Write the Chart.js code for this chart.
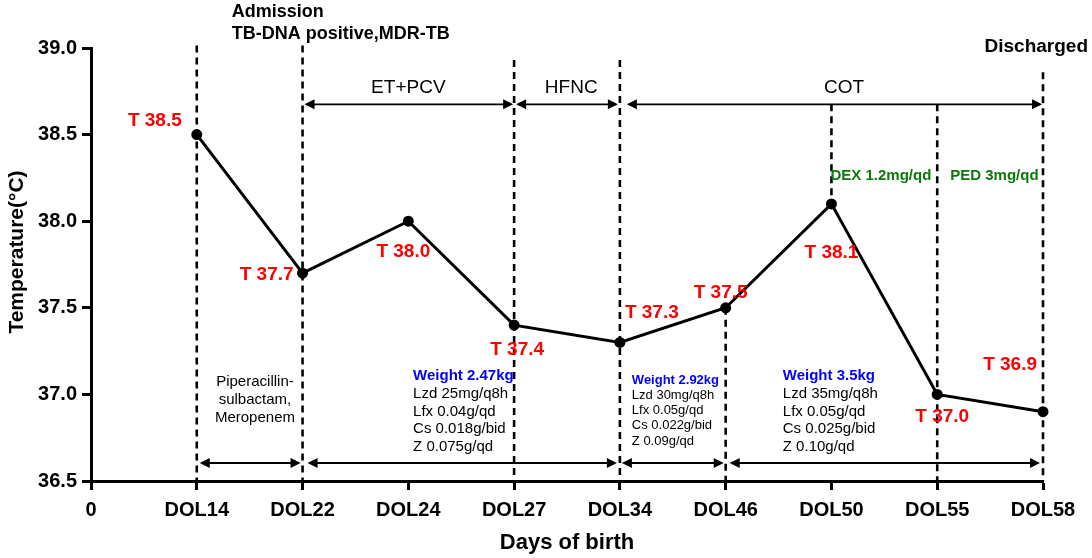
<!DOCTYPE html>
<html>
<head>
<meta charset="utf-8">
<script src="https://cdn.jsdelivr.net/npm/chart.js@4/dist/chart.umd.min.js"></script>
<style>
    body { margin: 0; background: #fff; }
    #wrap { width: 1092px; height: 558px; }
</style>
</head>
<body>
<div id="wrap"><canvas id="tempChart" width="1092" height="558"></canvas></div>
<script>
// Days of life and measured temperature
const days = ['DOL14', 'DOL22', 'DOL24', 'DOL27', 'DOL34', 'DOL46', 'DOL50', 'DOL55', 'DOL58'];
const temps = [38.5, 37.7, 38.0, 37.4, 37.3, 37.5, 38.1, 37.0, 36.9];
const xTickLabels = ['0'].concat(days);
const yTicks = [36.5, 37.0, 37.5, 38.0, 38.5, 39.0];

// respiratory support phases (start/end index into xTickLabels)
const phaseNames = ['ET+PCV', 'HFNC', 'COT'];
const phaseSpans = [[2, 4], [4, 5], [5, 9]];

// drug periods (bottom arrows)
const drugSpans = [[1, 2], [2, 5], [5, 6], [6, 9]];
const antibiotics = ['Piperacillin-', 'sulbactam,', 'Meropenem'];
const weights = ['Weight 2.47kg', 'Weight 2.92kg', 'Weight 3.5kg'];
const regimens = [
    ['Lzd 25mg/q8h', 'Lfx 0.04g/qd', 'Cs 0.018g/bid', 'Z 0.075g/qd'],
    ['Lzd 30mg/q8h', 'Lfx 0.05g/qd', 'Cs 0.022g/bid', 'Z 0.09g/qd'],
    ['Lzd 35mg/q8h', 'Lfx 0.05g/qd', 'Cs 0.025g/bid', 'Z 0.10g/qd']
];
const steroids = ['DEX 1.2mg/qd', 'PED 3mg/qd'];
const events = ['Admission', 'TB-DNA positive,MDR-TB', 'Discharged'];

const FONT = 'Liberation Sans, Arial, Helvetica, sans-serif';

function txt(ctx, s, x, y, font, color, align) {
    ctx.font = font;
    ctx.fillStyle = color;
    ctx.textAlign = align || 'center';
    ctx.textBaseline = 'middle';
    ctx.fillText(s, x, y);
}

function arrow(ctx, x1, x2, y) {
    const hl = 10, hw = 5;
    ctx.beginPath();
    ctx.moveTo(x1 + 2, y);
    ctx.lineTo(x2 - 2, y);
    ctx.stroke();
    ctx.beginPath();
    ctx.moveTo(x1, y); ctx.lineTo(x1 + hl, y - hw); ctx.lineTo(x1 + hl, y + hw); ctx.closePath();
    ctx.fill();
    ctx.beginPath();
    ctx.moveTo(x2, y); ctx.lineTo(x2 - hl, y - hw); ctx.lineTo(x2 - hl, y + hw); ctx.closePath();
    ctx.fill();
}

const timelinePlugin = {
    id: 'timeline',
    beforeDatasetsDraw(chart) {
        const ctx = chart.ctx;
        const xs = chart.scales.x, ys = chart.scales.y;
        const X = v => xs.getPixelForValue(v);
        const Y = v => ys.getPixelForValue(v);
        ctx.save();
        // dashed day markers
        const dashes = [
            [1, 39.015, 36.5], [2, 39.015, 36.5], [4, 38.93, 36.5], [5, 38.93, 36.5],
            [6, temps[5], 36.5], [7, 38.675, temps[6]], [8, 38.675, 36.5], [9, 38.86, 36.5]
        ];
        ctx.strokeStyle = '#000';
        ctx.lineWidth = 2.6;
        ctx.setLineDash([7, 5]);
        dashes.forEach(d => {
            ctx.beginPath();
            ctx.moveTo(X(d[0]), Y(d[1]));
            ctx.lineTo(X(d[0]), Y(d[2]));
            ctx.stroke();
        });
        ctx.setLineDash([]);

        // arrows
        ctx.lineWidth = 1.8;
        ctx.fillStyle = '#000';
        const insetTop = [[2, -1], [2, -2], [7, -1]];
        phaseSpans.forEach((s, i) => arrow(ctx, X(s[0]) + insetTop[i][0], X(s[1]) + insetTop[i][1], Y(38.675)));
        const insetBot = [[3, -2], [5, -3], [2, -2], [4, -3]];
        drugSpans.forEach((s, i) => arrow(ctx, X(s[0]) + insetBot[i][0], X(s[1]) + insetBot[i][1], Y(36.604)));

        // y axis title, drawn by hand to sit a bit above centre like the original
        ctx.translate(17, 252);
        ctx.rotate(-Math.PI / 2);
        txt(ctx, 'Temperature(°C)', 0, 0, 'bold 21px ' + FONT, '#000');
        ctx.restore();
    },
    afterDatasetsDraw(chart) {
        const ctx = chart.ctx;
        const xs = chart.scales.x, ys = chart.scales.y;
        const X = v => xs.getPixelForValue(v);
        const Y = v => ys.getPixelForValue(v);
        ctx.save();

        // phase names above top arrows
        const phaseX = [3.0, 4.54, 7.12];
        phaseNames.forEach((n, i) => txt(ctx, n, X(phaseX[i]), Y(38.675) - 17, '19px ' + FONT, '#000'));

        // temperature labels
        const off = [
            [-15, -14, 'right'], [-9, 2, 'right'], [-5, 31, 'center'], [3, 25, 'center'],
            [5, -30, 'left'], [-5, -15, 'center'], [0, 49, 'center'], [5, 22, 'center'], [-6, -47, 'right']
        ];
        temps.forEach((t, i) => {
            const o = off[i];
            txt(ctx, 'T ' + t.toFixed(1), X(i + 1) + o[0], Y(t) + o[1], 'bold 19px ' + FONT, '#ff0000', o[2]);
        });

        // events
        txt(ctx, events[0], X(1) + 35, 12, 'bold 18px ' + FONT, '#000', 'left');
        txt(ctx, events[1], X(1) + 35, 34, 'bold 18px ' + FONT, '#000', 'left');
        txt(ctx, events[2], 1088, 47, 'bold 19px ' + FONT, '#000', 'right');

        // steroids
        txt(ctx, steroids[0], X(7) - 1, 176, 'bold 15px ' + FONT, '#0b7a0b', 'left');
        txt(ctx, steroids[1], X(8) + 13, 176, 'bold 15px ' + FONT, '#0b7a0b', 'left');

        // antibiotics
        antibiotics.forEach((s, i) => txt(ctx, s, X(1.55), 382 + i * 17.8, '15px ' + FONT, '#000'));

        // anti-TB regimens
        const blocks = [
            { x: 3.045, y: 376, step: 17.7, size: 15 },
            { x: 5.113, y: 380, step: 15.3, size: 13 },
            { x: 6.54, y: 376, step: 17.7, size: 15 }
        ];
        blocks.forEach((b, i) => {
            txt(ctx, weights[i], X(b.x), b.y, 'bold ' + b.size + 'px ' + FONT, '#0000ff', 'left');
            regimens[i].forEach((r, j) => txt(ctx, r, X(b.x), b.y + (j + 1) * b.step, b.size + 'px ' + FONT, '#000', 'left'));
        });
        ctx.restore();
    }
};

new Chart(document.getElementById('tempChart').getContext('2d'), {
    type: 'line',
    data: {
        datasets: [{
            data: temps.map((t, i) => ({ x: i + 1, y: t })),
            borderColor: '#000',
            borderWidth: 3,
            pointRadius: 4,
            pointBackgroundColor: '#000',
            pointBorderColor: '#000',
            tension: 0,
            clip: false
        }]
    },
    options: {
        responsive: false,
        animation: false,
        devicePixelRatio: 1,
        layout: { padding: { top: 48, right: 49, left: 0, bottom: 0 } },
        plugins: {
            legend: { display: false },
            tooltip: { enabled: false }
        },
        scales: {
            x: {
                type: 'linear',
                min: 0,
                max: 9,
                afterFit: scale => { scale.height = 77; },
                afterBuildTicks: scale => { scale.ticks = xTickLabels.map((l, i) => ({ value: i })); },
                ticks: {
                    autoSkip: false,
                    maxRotation: 0,
                    padding: 8,
                    color: '#000',
                    font: { family: FONT, size: 20, weight: 'bold' },
                    callback: v => xTickLabels[v]
                },
                grid: { drawOnChartArea: false, tickLength: 9, tickColor: '#000', tickWidth: 3 },
                border: { display: true, color: '#000', width: 3 },
                title: {
                    display: true,
                    text: 'Days of birth',
                    color: '#000',
                    font: { family: FONT, size: 22, weight: 'bold' },
                    padding: { top: 0, bottom: 2 }
                }
            },
            y: {
                min: 36.5,
                max: 39,
                afterFit: scale => { scale.width = 91; },
                afterBuildTicks: scale => { scale.ticks = yTicks.map(v => ({ value: v })); },
                ticks: {
                    padding: 5,
                    color: '#000',
                    font: { family: FONT, size: 20, weight: 'bold' },
                    callback: v => v.toFixed(1)
                },
                grid: { drawOnChartArea: false, tickLength: 9, tickColor: '#000', tickWidth: 3 },
                border: { display: true, color: '#000', width: 3 },
                title: { display: false }
            }
        }
    },
    plugins: [timelinePlugin]
});
</script>
</body>
</html>
